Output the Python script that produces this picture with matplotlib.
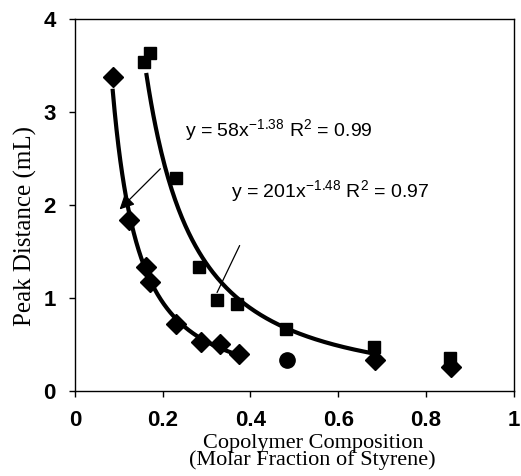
import numpy as np
import matplotlib
matplotlib.use("Agg")
import matplotlib.pyplot as plt

# diamonds (first copolymer series)
diamond_x = [0.086, 0.124, 0.161, 0.172, 0.231, 0.287, 0.330, 0.373, 0.683, 0.857]
diamond_y = [3.38, 1.84, 1.33, 1.17, 0.72, 0.52, 0.50, 0.40, 0.33, 0.26]
# odd round marker
circle_x = [0.484]
circle_y = [0.33]
# squares (second series)
square_x = [0.158, 0.170, 0.231, 0.283, 0.324, 0.369, 0.482, 0.681, 0.855]
square_y = [3.54, 3.63, 2.29, 1.33, 0.98, 0.93, 0.67, 0.47, 0.35]

# points used by each power trendline
fit1_n = 8
fit2_n = 8

SANS = ["Liberation Sans", "DejaVu Sans"]
SERIF = ["Liberation Serif", "DejaVu Serif"]


def power_fit(x, y):
    b, ln_a = np.polyfit(np.log(x), np.log(y), 1)
    return np.exp(ln_a), b


fig = plt.figure(figsize=(5.21, 4.76), dpi=100)
ax = fig.add_axes([0.144, 0.179, 0.842, 0.781])

# trendlines
x1 = np.array(diamond_x[:fit1_n])
y1 = np.array(diamond_y[:fit1_n])
a1, b1 = power_fit(x1, y1)
xx1 = np.linspace(x1.min(), x1.max(), 200)
ax.plot(xx1, a1 * xx1 ** b1, color="black", lw=3, zorder=2)

x2 = np.array(square_x[:fit2_n])
y2 = np.array(square_y[:fit2_n])
a2, b2 = power_fit(x2, y2)
xx2 = np.linspace(0.163, x2.max(), 200)
ax.plot(xx2, a2 * xx2 ** b2, color="black", lw=3, zorder=2)

ax.plot(diamond_x, diamond_y, "D", color="black", ms=10, zorder=3)
ax.plot(circle_x, circle_y, "o", color="black", ms=11, zorder=3)
ax.plot(square_x, square_y, "s", color="black", ms=9, zorder=3)

# equation labels
ax.annotate("", xy=(0.097, 1.93), xytext=(0.199, 2.41),
            arrowprops=dict(arrowstyle="-|>", color="black", lw=0.9, mutation_scale=22))
ax.annotate("", xy=(0.321, 1.03), xytext=(0.378, 1.59),
            arrowprops=dict(arrowstyle="-", color="black", lw=0.9))
ax.text(0.25, 2.80, r"y = 58x$^{\mathregular{-1.38}}$ R$^{\mathregular{2}}$ = 0.99",
        fontsize=14, family=SANS, va="center")
ax.text(0.356, 2.14, r"y = 201x$^{\mathregular{-1.48}}$ R$^{\mathregular{2}}$ = 0.97",
        fontsize=14, family=SANS, va="center")

ax.set_xlim(0, 1)
ax.set_ylim(0, 4)
ax.set_xticks([0, 0.2, 0.4, 0.6, 0.8, 1])
ax.set_xticklabels(["0", "0.2", "0.4", "0.6", "0.8", "1"])
ax.set_yticks([0, 1, 2, 3, 4])
ax.tick_params(direction="out", length=4, width=1, labelsize=16, pad=10)
for lab in ax.get_xticklabels() + ax.get_yticklabels():
    lab.set_family(SANS)
    lab.set_fontweight("bold")
for s in ax.spines.values():
    s.set_linewidth(1)

ax.set_xlabel("Copolymer Composition\n(Molar Fraction of Styrene)",
              family=SERIF, fontsize=16, linespacing=0.85)
ax.xaxis.set_label_coords(0.542, -0.115, transform=ax.transAxes)
ax.xaxis.label.set_va("top")
ax.set_ylabel("Peak Distance (mL)", family=SERIF, fontsize=18)
ax.yaxis.set_label_coords(-0.086, 0.444)

fig.savefig("out.png", dpi=100)
